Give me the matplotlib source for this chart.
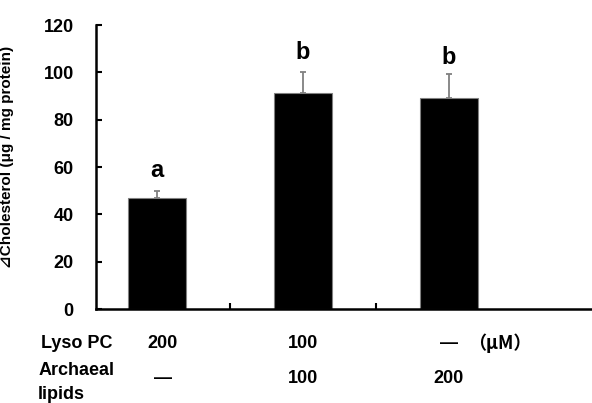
import matplotlib.pyplot as plt
import numpy as np

plt.rcParams['font.family'] = ['Liberation Sans', 'DejaVu Sans']
plt.rcParams['font.weight'] = 'bold'

# data
groups = [0, 1, 2]
cholesterol = [46.8, 91.4, 89.3]
sd = [3.0, 8.9, 9.9]
letters = ['a', 'b', 'b']
letter_y = [53.5, 103.5, 101.5]
lyso_pc = ['200', '100', '\u2014']
archaeal = ['\u2014', '100', '200']

fig = plt.figure(figsize=(5.92, 4.03), dpi=100)
ax = fig.add_axes([96 / 592, 1 - 309 / 403, 1 - 96 / 592, 284 / 403])

x = np.array(groups)
ax.bar(x, cholesterol, width=0.4, color='black', edgecolor='#808080', linewidth=0.8, zorder=2)
ax.errorbar(x, cholesterol, yerr=[np.zeros(3), sd], fmt='none', ecolor='#808080',
            elinewidth=1.3, capsize=2.5, capthick=1.3, zorder=1)
for xi, ly, lab in zip(x, letter_y, letters):
    ax.text(xi, ly, lab, ha='center', va='bottom', fontsize=17, fontweight='bold')

ax.set_xlim(-0.418, 2.98)
ax.set_ylim(0, 120)
ax.set_yticks(np.arange(0, 121, 20))
ax.set_xticks([0.5, 1.5])
ax.set_xticklabels([])
ax.tick_params(axis='both', direction='in', length=4, width=1.5)
ax.tick_params(axis='y', labelsize=13, pad=16)
for lbl in ax.get_yticklabels():
    lbl.set_fontweight('bold')
for s in ['top', 'right']:
    ax.spines[s].set_visible(False)
for s in ['left', 'bottom']:
    ax.spines[s].set_linewidth(1.8)

ax.set_ylabel('\u22bfCholesterol (\u03bcg / mg protein)', fontsize=11, fontweight='bold')
ax.yaxis.set_label_coords(-0.165, 0.535)

# treatment rows below the axis
tr = ax.get_xaxis_transform()
ax.text(-0.795, -0.12, 'Lyso PC', transform=tr, ha='left', va='center', fontsize=13)
ax.text(-0.815, -0.215, 'Archaeal', transform=tr, ha='left', va='center', fontsize=13)
ax.text(-0.815, -0.3, 'lipids', transform=tr, ha='left', va='center', fontsize=13)
for xi, a, b in zip(x, lyso_pc, archaeal):
    ax.text(xi + (0.04 if xi == 0 else 0), -0.12, a, transform=tr, ha='center', va='center', fontsize=13)
    ax.text(xi + (0.04 if xi == 0 else 0), -0.245, b, transform=tr, ha='center', va='center', fontsize=13)
ax.text(2.35, -0.12, '\uff08\u03bcM\uff09', transform=tr, ha='center', va='center', fontsize=13,
        family=['Noto Sans CJK JP', 'Liberation Sans'])

fig.savefig('out.png', dpi=100)
